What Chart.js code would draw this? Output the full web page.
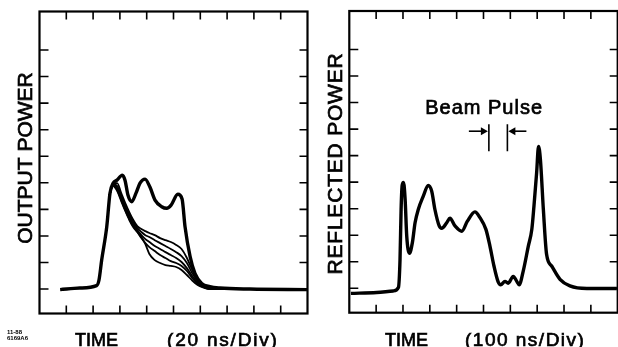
<!DOCTYPE html>
<html>
<head>
<meta charset="utf-8">
<script src="https://cdn.jsdelivr.net/npm/chart.js@4.4.1/dist/chart.umd.min.js"></script>
<style>
  body { margin: 0; background: #fff; }
  #wrap { position: relative; width: 618px; height: 347px; overflow: hidden; }
  canvas { position: absolute; top: 0; }
  #outChart { left: 0; }
  #refChart { left: 310px; }
</style>
</head>
<body>
<div id="wrap">
  <canvas id="outChart" width="310" height="347"></canvas>
  <canvas id="refChart" width="308" height="347"></canvas>
</div>
<script>
// time in divisions, power in (arbitrary) divisions above the baseline
var xTicks = [1, 2, 3, 4, 5, 6, 7, 8, 9];
var yTicks = [0, 1, 2, 3, 4, 5, 6, 7, 8, 9];

// left panel: output power, full pulse (thick trace)
var outTime  = [0.77, 1.5, 2.13, 2.22, 2.32, 2.51, 2.63, 2.75, 2.89, 3.09, 3.19, 3.30, 3.44, 3.60, 3.75, 3.94, 4.12, 4.31, 4.56, 4.75, 4.91, 5.16, 5.32, 5.43, 5.62, 5.80, 6.05, 6.36, 6.73, 7.85, 9.98];
var outPower = [-0.02, 0.04, 0.13, 0.34, 1.09, 2.35, 3.61, 3.99, 4.10, 4.29, 4.10, 3.54, 3.29, 3.61, 3.99, 4.14, 3.84, 3.35, 3.10, 3.04, 3.16, 3.57, 3.39, 2.35, 1.22, 0.59, 0.21, 0.09, 0.04, 0, -0.02];

// left panel: thin traces (shared time axis)
var decayTime = [2.6, 2.75, 2.9, 3.05, 3.2, 3.35, 3.5, 3.65, 3.8, 3.95, 4.1, 4.3, 4.5, 4.7, 4.9, 5.1, 5.3, 5.5, 5.7, 5.9, 6.1, 6.3, 6.6, 7.0];
var decayA = [3.50, 3.99, 3.99, 3.61, 3.24, 2.90, 2.60, 2.37, 2.26, 2.18, 2.11, 2.03, 1.92, 1.84, 1.77, 1.66, 1.51, 1.17, 0.72, 0.34, 0.13, 0.04, 0, 0];
var decayB = [3.50, 3.95, 3.88, 3.50, 3.12, 2.79, 2.52, 2.30, 2.15, 2.03, 1.96, 1.84, 1.73, 1.62, 1.51, 1.39, 1.24, 0.98, 0.60, 0.30, 0.11, 0.03, 0, 0];
var decayC = [3.50, 3.92, 3.80, 3.43, 3.05, 2.71, 2.45, 2.22, 2.03, 1.88, 1.77, 1.62, 1.51, 1.39, 1.28, 1.17, 1.02, 0.79, 0.49, 0.24, 0.09, 0.02, 0, 0];
var decayD = [3.50, 3.92, 3.73, 3.35, 2.97, 2.64, 2.37, 2.15, 1.92, 1.73, 1.58, 1.43, 1.28, 1.17, 1.05, 0.98, 0.87, 0.68, 0.41, 0.19, 0.08, 0.01, 0, 0];
var decayE = [3.50, 3.88, 3.69, 3.31, 2.94, 2.60, 2.33, 2.15, 1.96, 1.69, 1.32, 1.09, 0.98, 0.90, 0.87, 0.83, 0.72, 0.53, 0.32, 0.15, 0.06, 0.01, 0, 0];

// right panel: reflected power
var refTime  = [0.06, 1.02, 1.64, 1.83, 1.89, 1.93, 1.97, 2.02, 2.08, 2.14, 2.24, 2.35, 2.45, 2.57, 2.76, 2.94, 3.07, 3.19, 3.35, 3.44, 3.63, 3.75, 3.94, 4.19, 4.40, 4.68, 4.87, 5.09, 5.24, 5.39, 5.55, 5.64, 5.80, 5.92, 6.11, 6.24, 6.33, 6.48, 6.67, 6.80, 6.88, 6.98, 7.05, 7.12, 7.23, 7.35, 7.54, 7.85, 8.22, 8.85, 9.97];
var refPower = [-0.19, -0.16, -0.10, 0.03, 1.09, 2.97, 3.88, 3.99, 3.35, 1.97, 1.32, 1.72, 2.47, 2.97, 3.48, 3.88, 3.66, 2.97, 2.35, 2.26, 2.47, 2.64, 2.35, 2.15, 2.53, 2.88, 2.66, 2.22, 1.59, 0.84, 0.23, 0.13, 0.26, 0.19, 0.45, 0.26, 0.13, 0.65, 1.59, 2.22, 3.10, 4.36, 5.35, 4.86, 2.97, 1.28, 0.84, 0.34, 0.09, -0.01, -0.01];

// beam pulse window (right panel), in time divisions
var beamStart = 5.20;
var beamEnd = 5.89;
var beamLevel = 5.92;

var FONT = '"Liberation Sans", Arial, Helvetica, sans-serif';

function pts(xs, ys) {
    return xs.map(function (t, i) { return { x: t, y: ys[i] }; });
}

function trace(xs, ys, width) {
    return {
        data: pts(xs, ys),
        borderColor: "#000",
        borderWidth: width,
        pointRadius: 0,
        fill: false,
        cubicInterpolationMode: "monotone",
    };
}

// regular face with a thin outline, reads like the medium weight of the scan
function heavyText(ctx, text, x, y) {
    ctx.fillText(text, x, y);
    ctx.lineWidth = 0.7;
    ctx.strokeText(text, x, y);
}

function arrow(ctx, fromX, toX, y) {
    var dir = toX > fromX ? 1 : -1;
    ctx.beginPath();
    ctx.moveTo(fromX, y);
    ctx.lineTo(toX - dir * 5, y);
    ctx.stroke();
    ctx.beginPath();
    ctx.moveTo(toX, y);
    ctx.lineTo(toX - dir * 7, y - 4);
    ctx.lineTo(toX - dir * 7, y + 4);
    ctx.closePath();
    ctx.fill();
}

// frame with inward ticks plus the axis captions
var framePlugin = {
    id: "frame",
    afterDraw: function (chart, args, opts) {
        var ctx = chart.ctx;
        var a = chart.chartArea;
        var x = chart.scales.x;
        var y = chart.scales.y;
        ctx.save();
        ctx.strokeStyle = "#000";
        ctx.fillStyle = "#000";
        ctx.lineWidth = 2.2;
        ctx.strokeRect(a.left, a.top, a.right - a.left, a.bottom - a.top);

        ctx.lineWidth = 1.6;
        ctx.beginPath();
        xTicks.forEach(function (v) {
            var px = x.getPixelForValue(v);
            ctx.moveTo(px, a.top);
            ctx.lineTo(px, a.top + 8);
            ctx.moveTo(px, a.bottom);
            ctx.lineTo(px, a.bottom - 8);
        });
        yTicks.forEach(function (v) {
            var py = y.getPixelForValue(v);
            ctx.moveTo(a.left, py);
            ctx.lineTo(a.left + 9, py);
            ctx.moveTo(a.right, py);
            ctx.lineTo(a.right - 8, py);
        });
        ctx.stroke();

        // y caption
        ctx.save();
        ctx.translate(opts.yTitleX, opts.yTitleY);
        ctx.rotate(-Math.PI / 2);
        ctx.font = "21px " + FONT;
        ctx.textAlign = "center";
        ctx.textBaseline = "middle";
        ctx.letterSpacing = opts.titleSpacing;
        heavyText(ctx, opts.yTitle, 0, 0);
        ctx.letterSpacing = "0px";
        ctx.restore();

        // x caption
        ctx.textBaseline = "alphabetic";
        ctx.textAlign = "left";
        ctx.font = "18px " + FONT;
        heavyText(ctx, "TIME", 75, 346);
        ctx.font = "19px " + FONT;
        ctx.letterSpacing = opts.unitSpacing;
        heavyText(ctx, opts.unit, opts.unitX, 346);
        ctx.letterSpacing = "0px";

        if (opts.tag) {
            ctx.font = "bold 6px " + FONT;
            ctx.fillText(opts.tag[0], 7, 334);
            ctx.fillText(opts.tag[1], 7, 340);
        }

        if (opts.beam) {
            var b1 = x.getPixelForValue(beamStart);
            var b2 = x.getPixelForValue(beamEnd);
            var ay = y.getPixelForValue(beamLevel);
            ctx.font = "20px " + FONT;
            ctx.textAlign = "center";
            ctx.letterSpacing = "1px";
            heavyText(ctx, "Beam Pulse", (b1 + b2) / 2 - 14, ay - 17);
            ctx.letterSpacing = "0px";
            ctx.lineWidth = 1.6;
            ctx.beginPath();
            ctx.moveTo(b1, ay - 7);
            ctx.lineTo(b1, ay + 20);
            ctx.moveTo(b2, ay - 7);
            ctx.lineTo(b2, ay + 20);
            ctx.stroke();
            arrow(ctx, b1 - 20, b1 - 1, ay);
            arrow(ctx, b2 + 19, b2 + 1, ay);
        }
        ctx.restore();
    },
};

function makeOptions(padding, frameOpts) {
    return {
        responsive: false,
        animation: false,
        events: [],
        layout: { padding: padding },
        plugins: {
            legend: { display: false },
            tooltip: { enabled: false },
            frame: frameOpts,
        },
        scales: {
            x: { type: "linear", min: 0, max: 10, display: false },
            y: { type: "linear", min: -0.92, max: 10.45, display: false },
        },
    };
}

new Chart(document.getElementById("outChart").getContext("2d"), {
    type: "line",
    data: {
        datasets: [
            trace(decayTime, decayA, 1.8),
            trace(decayTime, decayB, 1.8),
            trace(decayTime, decayC, 1.8),
            trace(decayTime, decayD, 1.8),
            trace(decayTime, decayE, 1.8),
            trace(outTime, outPower, 3.4),
        ],
    },
    options: makeOptions(
        { left: 39.5, top: 11.5, right: 2.5, bottom: 33.5 },
        { yTitle: "OUTPUT POWER", yTitleX: 26, yTitleY: 158, titleSpacing: "0px", unit: "(20 ns/Div)", unitX: 167, unitSpacing: "1.8px", tag: ["11-88", "6169A6"] }
    ),
    plugins: [framePlugin],
});

new Chart(document.getElementById("refChart").getContext("2d"), {
    type: "line",
    data: {
        datasets: [trace(refTime, refPower, 3.4)],
    },
    options: makeOptions(
        { left: 39.3, top: 11, right: 0.3, bottom: 34.3 },
        { yTitle: "REFLECTED POWER", yTitleX: 26, yTitleY: 163.5, titleSpacing: "0.8px", unit: "(100 ns/Div)", unitX: 155, unitSpacing: "1.5px", beam: true }
    ),
    plugins: [framePlugin],
});
</script>
</body>
</html>
